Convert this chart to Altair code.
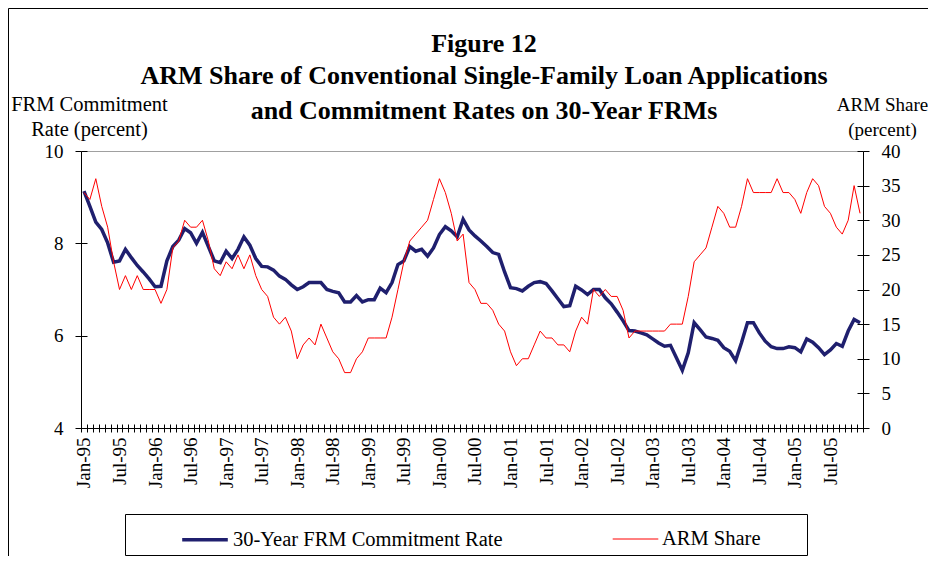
import json
import altair as alt
import pandas as pd

# ---- data ----
tick_labels = ["Jan-95", "Jul-95", "Jan-96", "Jul-96", "Jan-97", "Jul-97", "Jan-98", "Jul-98",
               "Jan-99", "Jul-99", "Jan-00", "Jul-00", "Jan-01", "Jul-01", "Jan-02", "Jul-02",
               "Jan-03", "Jul-03", "Jan-04", "Jul-04", "Jan-05", "Jul-05"]

series_names = ["30-Year FRM Commitment Rate", "ARM Share"]

frm_rate = [
    9.13, 8.80, 8.46, 8.30, 8.01, 7.59, 7.62, 7.87, 7.69, 7.52, 7.38, 7.23,
    7.06, 7.07, 7.62, 7.93, 8.07, 8.32, 8.23, 8.00, 8.24, 7.93, 7.62, 7.58,
    7.83, 7.67, 7.87, 8.14, 7.96, 7.67, 7.50, 7.49, 7.42, 7.29, 7.22, 7.10,
    7.00, 7.06, 7.15, 7.15, 7.15, 7.00, 6.96, 6.93, 6.73, 6.73, 6.87, 6.73,
    6.78, 6.78, 7.03, 6.93, 7.15, 7.54, 7.62, 7.93, 7.83, 7.87, 7.72, 7.90,
    8.19, 8.36, 8.27, 8.14, 8.52, 8.29, 8.16, 8.05, 7.93, 7.80, 7.76, 7.38,
    7.04, 7.02, 6.97, 7.07, 7.15, 7.17, 7.13, 6.97, 6.80, 6.63, 6.65, 7.07,
    6.99, 6.89, 7.00, 7.00, 6.82, 6.69, 6.51, 6.32, 6.11, 6.10, 6.06, 6.02,
    5.93, 5.84, 5.77, 5.79, 5.52, 5.25, 5.63, 6.28, 6.13, 5.97, 5.94, 5.90,
    5.74, 5.66, 5.46, 5.85, 6.28, 6.28, 6.06, 5.88, 5.76, 5.72, 5.72, 5.76,
    5.74, 5.65, 5.93, 5.86, 5.74, 5.59, 5.69, 5.83, 5.77, 6.10, 6.35, 6.28,
]

arm_share = [
    34, 33, 36, 32, 29, 24, 20, 22, 20, 22, 20, 20,
    20, 18, 20, 26, 27, 30, 29, 29, 30, 27, 23, 22,
    24, 23, 25, 23, 25, 22, 20, 19, 16, 15, 16, 14,
    10, 12, 13, 12, 15, 13, 11, 10, 8, 8, 10, 11,
    13, 13, 13, 13, 16, 20, 24, 27, 28, 29, 30, 33,
    36, 34, 31, 27, 28, 21, 20, 18, 18, 17, 15, 14,
    11, 9, 10, 10, 12, 14, 13, 13, 12, 12, 11, 14,
    16, 15, 20, 19, 20, 19, 19, 17, 13, 14, 14, 14,
    14, 14, 14, 15, 15, 15, 19, 24, 25, 26, 29, 32,
    31, 29, 29, 32, 36, 34, 34, 34, 34, 36, 34, 34,
    33, 31, 34, 36, 35, 32, 31, 29, 28, 30, 35, 31,
]

frm_ticks = [4, 6, 8, 10]
arm_ticks = [0, 5, 10, 15, 20, 25, 30, 35, 40]

colors = ["#1f1f6e", "#ff0000"]
widths = [3.5, 1.0]

n = len(frm_rate)
df_frm = pd.DataFrame({"m": list(range(n)), "value": frm_rate, "series": series_names[0]})
df_arm = pd.DataFrame({"m": list(range(n)), "value": arm_share, "series": series_names[1]})

FONT = "Liberation Serif"
W, H = 782, 277

label_positions = [6 * i for i in range(len(tick_labels))]
boundaries = [i - 0.5 for i in range(n + 1)]
label_expr = json.dumps(tick_labels) + "[round(datum.value / 6)]"
# trailing blank room in the legend box after the last entry
last_label_expr = ("datum.label == '" + series_names[1] + "' ? datum.label + '" +
                   "\u00a0" * 8 + "\u200b' : datum.label")

xscale = alt.Scale(domain=[-0.5, n - 0.5], nice=False, zero=False)
frm_scale = alt.Scale(domain=[4, 10], nice=False, zero=False)
arm_scale = alt.Scale(domain=[0, 40], nice=False, zero=False)

legend = alt.Legend(
    orient="none", legendX=44, legendY=363, direction="horizontal",
    title="\u200b", titleOrient="left", titlePadding=54.5, titleFontSize=20,
    symbolType="M-1.2,0H1.2", symbolSize=1444, labelFont=FONT, labelFontSize=20.5,
    labelColor="black", labelOffset=7, labelExpr=last_label_expr, labelLimit=500,
    strokeColor="black", fillColor="white", padding=4.5, columnPadding=107,
)
color = alt.Color("series:N", scale=alt.Scale(domain=series_names, range=colors), legend=legend)
stroke_w = alt.StrokeWidth("series:N", scale=alt.Scale(domain=series_names, range=widths), legend=legend)

# FRM line: month labels + left axis
frm_layer = alt.Chart(df_frm).mark_line().encode(
    x=alt.X("m:Q", scale=xscale, axis=alt.Axis(
        orient="bottom", values=label_positions, labelExpr=label_expr, labelAngle=270,
        labelAlign="right", labelBaseline="middle", ticks=False, domain=False, labelPadding=9,
        grid=False, labelFont=FONT, labelFontSize=19, labelColor="black",
        labelOverlap=False, labelBound=False, labelFlush=False, title=None)),
    y=alt.Y("value:Q", scale=frm_scale, axis=alt.Axis(
        orient="left", values=frm_ticks, tickSize=6, labelPadding=12, grid=False,
        domainColor="black", tickColor="black", labelFont=FONT, labelFontSize=19,
        labelColor="black", title=["FRM Commitment", "Rate (percent)"], titleAngle=0,
        titleX=8, titleY=-41, titleAlign="center", titleBaseline="alphabetic",
        titleFont=FONT, titleFontSize=20.5, titleFontWeight="normal", titleColor="black",
        titleLineHeight=25)),
    color=color,
    strokeWidth=stroke_w,
)

# ARM line: month tick marks + right axis
arm_layer = alt.Chart(df_arm).mark_line().encode(
    x=alt.X("m:Q", scale=xscale, axis=alt.Axis(
        orient="bottom", values=boundaries, labels=False, tickSize=4, grid=False,
        domainColor="black", tickColor="black", title=None)),
    y=alt.Y("value:Q", scale=arm_scale, axis=alt.Axis(
        orient="right", values=arm_ticks, tickSize=6, labelPadding=12, grid=False,
        domainColor="black", tickColor="black", labelFont=FONT, labelFontSize=19,
        labelColor="black", title=["ARM Share", "(percent)"], titleAngle=0,
        titleX=19, titleY=-41, titleAlign="center", titleBaseline="alphabetic",
        titleFont=FONT, titleFontSize=19, titleFontWeight="normal", titleColor="black",
        titleLineHeight=25)),
    color=color,
    strokeWidth=stroke_w,
)

# inner halves of the cross tick marks (invisible lines carrying extra axes)
inner_frm = alt.Chart(df_frm).mark_line(opacity=0).encode(
    x=alt.X("m:Q", scale=xscale, axis=alt.Axis(
        orient="top", offset=-H, values=boundaries, labels=False, domain=False,
        tickSize=4, tickColor="black", grid=False, title=None)),
    y=alt.Y("value:Q", scale=frm_scale, axis=alt.Axis(
        orient="right", offset=-W, values=frm_ticks, labels=False, domain=False,
        tickSize=6, tickColor="black", grid=False, title=None)),
)
inner_arm = alt.Chart(df_arm).mark_line(opacity=0).encode(
    x=alt.X("m:Q", scale=xscale, axis=None),
    y=alt.Y("value:Q", scale=arm_scale, axis=alt.Axis(
        orient="left", offset=-W, values=arm_ticks, labels=False, domain=False,
        tickSize=6, tickColor="black", grid=False, title=None)),
)

# outer frame of the figure
frame = alt.Chart(pd.DataFrame({"k": [0]})).mark_rect(
    fillOpacity=0, stroke="black", strokeWidth=1
).encode(
    x=alt.value(-72.5), x2=alt.value(W + 400), y=alt.value(-142.5), y2=alt.value(H + 400)
)

chart = alt.layer(frame, frm_layer, arm_layer, inner_frm, inner_arm).resolve_scale(
    y="independent"
).resolve_axis(
    x="independent", y="independent"
).properties(
    width=W, height=H,
    title=alt.Title(
        "Figure 12",
        subtitle=["ARM Share of Conventional Single-Family Loan Applications",
                  "and Commitment Rates on 30-Year FRMs"],
        font=FONT, fontSize=26, fontWeight="bold", anchor="middle", dx=12,
        offset=0, dy=116, color="black", subtitleFont=FONT, subtitleFontSize=26,
        subtitleFontWeight="bold", subtitleColor="black", subtitleLineHeight=35,
        subtitlePadding=6),
    autosize=alt.AutoSizeParams(type="none"),
    padding={"left": 73, "top": 143, "right": 65, "bottom": 128},
    background="white",
).configure_view(stroke="#a0a0a0", strokeWidth=1)

chart.save("out.html", embed_options={"renderer": "svg", "actions": False})
